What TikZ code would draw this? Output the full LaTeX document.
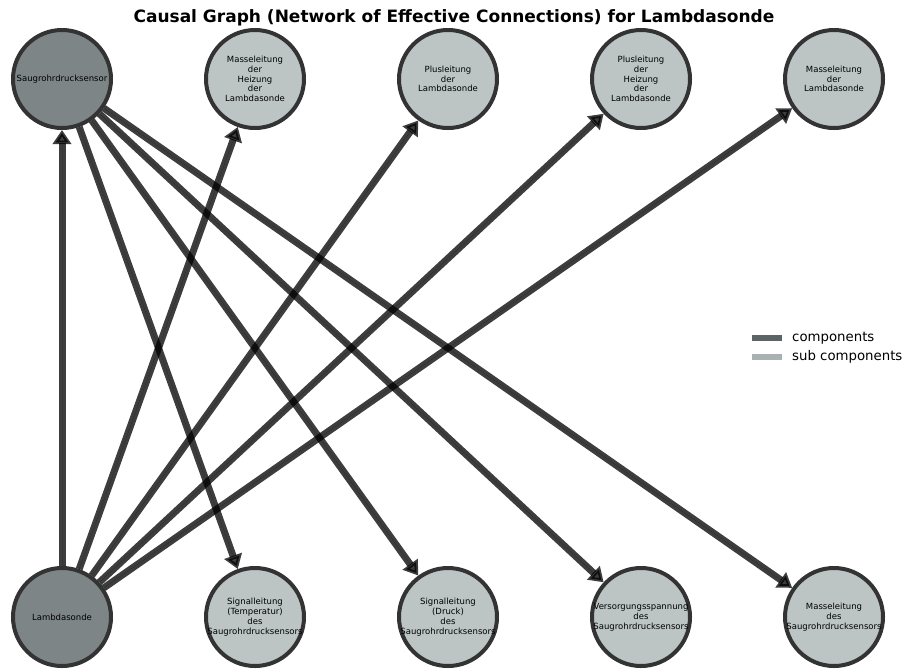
\documentclass[tikz,border=0pt]{standalone}
\usepackage{fontspec}
\setmainfont{DejaVu Sans}
\usetikzlibrary{calc}
\usetikzlibrary{positioning}
\usetikzlibrary{arrows.meta}
\definecolor{compGray}{HTML}{7E8587}
\definecolor{subGray}{HTML}{BCC4C4}
\definecolor{rimGray}{HTML}{333333}
\definecolor{legCompGray}{HTML}{5C6465}
\definecolor{legSubGray}{HTML}{A9B1B2}
% negative inner sep keeps every circle at its minimum size
\tikzstyle{compnode} = [draw=rimGray, line width=4pt, circle, minimum size=98pt, inner sep=-14pt, fill=compGray, align=center, font=\fontsize{8.5}{9.8}\selectfont]
\tikzstyle{subnode} = [compnode, fill=subGray]
\tikzstyle{effect} = [draw=black, line width=7pt, draw opacity=0.76, fill opacity=0.76, fill=black, -{Triangle[width=18pt,length=14pt]}]
\tikzstyle{legendline} = [line width=6pt]
\tikzstyle{legendtext} = [anchor=west, inner sep=0pt, font=\fontsize{13.3}{15}\selectfont]

\begin{document}
\begin{tikzpicture}[x=1pt, y=-1pt]
\useasboundingbox (0,0) rectangle (904,670);

\node[font=\bfseries\fontsize{17}{19}\selectfont] (title) at (454,18) {Causal Graph (Network of Effective Connections) for Lambdasonde};

% upper row: sensor and the lines of the probe
\node[compnode] (sensor) at (62,79) {Saugrohrdrucksensor};
\node[subnode] (mass_heat) at ($(sensor)+(193,0)$) {Masseleitung\\der\\Heizung\\der\\Lambdasonde};
\node[subnode] (plus_probe) at ($(mass_heat)+(193,0)$) {Plusleitung\\der\\Lambdasonde};
\node[subnode] (plus_heat) at ($(plus_probe)+(193,0)$) {Plusleitung\\der\\Heizung\\der\\Lambdasonde};
\node[subnode] (mass_probe) at ($(plus_heat)+(193,0)$) {Masseleitung\\der\\Lambdasonde};

% lower row: probe and the lines of the sensor
\node[compnode] (probe) at ($(sensor)+(0,538)$) {Lambdasonde};
\node[subnode] (sig_temp) at ($(probe)+(193,0)$) {Signalleitung\\(Temperatur)\\des\\Saugrohrdrucksensors};
\node[subnode] (sig_press) at ($(sig_temp)+(193,0)$) {Signalleitung\\(Druck)\\des\\Saugrohrdrucksensors};
\node[subnode] (supply) at ($(sig_press)+(193,0)$) {Versorgungsspannung\\des\\Saugrohrdrucksensors};
\node[subnode] (mass_sensor) at ($(supply)+(193,0)$) {Masseleitung\\des\\Saugrohrdrucksensors};

% effective connections
\draw[effect] (probe) -- (sensor);
\draw[effect] (probe) -- (mass_heat);
\draw[effect] (probe) -- (plus_probe);
\draw[effect] (probe) -- (plus_heat);
\draw[effect] (probe) -- (mass_probe);
\draw[effect] (sensor) -- (sig_temp);
\draw[effect] (sensor) -- (sig_press);
\draw[effect] (sensor) -- (supply);
\draw[effect] (sensor) -- (mass_sensor);

% legend
\node[legendtext] (leg_comp) at (792,338) {components};
\node[legendtext] (leg_sub) at (792,357) {sub components};
\draw[legendline, legCompGray] ($(leg_comp.west)+(-40,0)$) -- ($(leg_comp.west)+(-10,0)$);
\draw[legendline, legSubGray] ($(leg_sub.west)+(-40,0)$) -- ($(leg_sub.west)+(-10,0)$);
\end{tikzpicture}
\end{document}
